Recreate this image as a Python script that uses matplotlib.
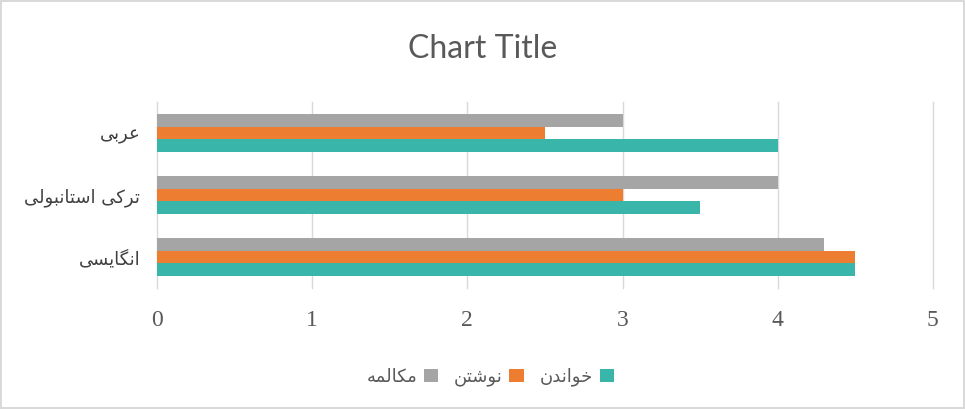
import matplotlib.pyplot as plt
import numpy as np

categories = ["انگایسی", "ترکی استانبولی", "عربی"]
series_names = ["خواندن", "نوشتن", "مکالمه"]
reading = [4.5, 3.5, 4.0]
writing = [4.5, 3.0, 2.5]
speaking = [4.3, 4.0, 3.0]
colors = ["#3AB5AA", "#ED7D31", "#A5A5A5"]

# arabic presentation forms: isolated, final, initial, medial
FORMS = {
    "ا": ("\uFE8D", "\uFE8E", None, None),
    "ب": ("\uFE8F", "\uFE90", "\uFE91", "\uFE92"),
    "ت": ("\uFE95", "\uFE96", "\uFE97", "\uFE98"),
    "خ": ("\uFEA5", "\uFEA6", "\uFEA7", "\uFEA8"),
    "د": ("\uFEA9", "\uFEAA", None, None),
    "ر": ("\uFEAD", "\uFEAE", None, None),
    "س": ("\uFEB1", "\uFEB2", "\uFEB3", "\uFEB4"),
    "ش": ("\uFEB5", "\uFEB6", "\uFEB7", "\uFEB8"),
    "ع": ("\uFEC9", "\uFECA", "\uFECB", "\uFECC"),
    "ل": ("\uFEDD", "\uFEDE", "\uFEDF", "\uFEE0"),
    "م": ("\uFEE1", "\uFEE2", "\uFEE3", "\uFEE4"),
    "ن": ("\uFEE5", "\uFEE6", "\uFEE7", "\uFEE8"),
    "ه": ("\uFEE9", "\uFEEA", "\uFEEB", "\uFEEC"),
    "و": ("\uFEED", "\uFEEE", None, None),
    "ی": ("\uFBFC", "\uFBFD", "\uFBFE", "\uFBFF"),
    "ک": ("\uFB8E", "\uFB8F", "\uFB90", "\uFB91"),
    "گ": ("\uFB92", "\uFB93", "\uFB94", "\uFB95"),
}


def shape(text):
    out = []
    for i, ch in enumerate(text):
        if ch not in FORMS:
            out.append(ch)
            continue
        prev = text[i - 1] if i > 0 else None
        nxt = text[i + 1] if i < len(text) - 1 else None
        join_prev = prev in FORMS and FORMS[prev][2] is not None
        join_next = nxt in FORMS and FORMS[ch][2] is not None
        f = FORMS[ch]
        if join_prev and join_next:
            out.append(f[3])
        elif join_prev:
            out.append(f[1])
        elif join_next:
            out.append(f[2])
        else:
            out.append(f[0])
    return "".join(out)[::-1]


fig = plt.figure(figsize=(9.65, 4.09), dpi=100)
fig.patch.set_edgecolor("#D9D9D9")
fig.patch.set_linewidth(1.5)
ax = fig.add_axes([0.1627, 0.2958, 0.804, 0.4548])

y = np.arange(len(categories))
h = 0.205
for vals, name, c, off in zip([reading, writing, speaking], series_names, colors, [-h, 0, h]):
    ax.barh(y + off, vals, height=h, color=c, label=shape(name), zorder=3)

ax.set_xlim(0, 5)
ax.set_ylim(-0.5, 2.5)
ax.set_xticks(range(6))
ax.set_xticklabels([str(i) for i in range(6)], family="Liberation Serif", fontsize=17, color="#595959")
ax.set_yticks(y)
ax.set_yticklabels([shape(c) for c in categories], family="DejaVu Sans", fontsize=13, color="#404040")
ax.tick_params(axis="both", length=0)
ax.tick_params(axis="x", pad=16)
ax.tick_params(axis="y", pad=12)
ax.grid(axis="x", color="#D9D9D9", linewidth=1, zorder=0)
for gl in ax.get_xgridlines():
    gl.set_clip_on(False)
for s in ax.spines.values():
    s.set_visible(False)

fig.text(0.5, 0.88, "Chart Title", ha="center", va="center", fontsize=23, color="#595959", family="Lato")

handles, labels = ax.get_legend_handles_labels()
leg = fig.legend(handles[::-1], labels[::-1], loc="center", bbox_to_anchor=(0.508, 0.078), ncol=3,
                 frameon=False, markerfirst=False, handlelength=0.8, handleheight=0.8,
                 handletextpad=0.35, columnspacing=0.9, prop={"family": "DejaVu Sans", "size": 13})
for t in leg.get_texts():
    t.set_color("#595959")

fig.savefig("out.png", dpi=100)
